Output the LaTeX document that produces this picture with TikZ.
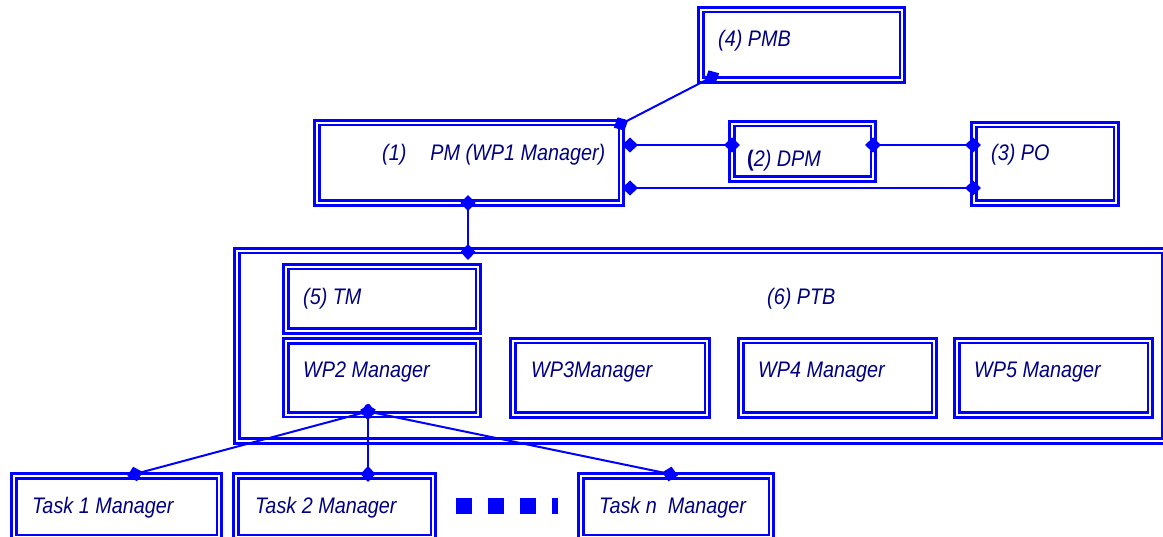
\documentclass[tikz,border=0pt]{standalone}
\usepackage{fontspec}
\setmainfont{Liberation Sans}[FakeStretch=0.88]
\usetikzlibrary{arrows.meta,calc}
\definecolor{boxblue}{RGB}{0,0,255}
\definecolor{labelnavy}{RGB}{0,0,128}
\tikzset{
  dbox/.style={rectangle, draw=boxblue, double=white, double distance=2pt,
    line width=2.75pt, inner sep=0pt, outer sep=3.75pt},
  lbl/.style={anchor=base west, inner sep=0pt, text=labelnavy,
    font=\fontsize{22.5}{27}\selectfont\itshape},
  link/.style={draw=boxblue, line width=2pt,
    arrows={Diamond[length=16pt,width=15pt]-Diamond[length=16pt,width=15pt]},
    shorten <=-8pt, shorten >=-8pt},
  dotmark/.style={fill=boxblue}
}
\begin{document}
\begin{tikzpicture}[x=1pt,y=-1pt]
\useasboundingbox (0,0) rectangle (1163,537);

% management boxes
\node[dbox, minimum width=201.5pt, minimum height=70.5pt] (pmb) at (801.5,45) {};
\node[dbox, minimum width=304.5pt, minimum height=80.5pt] (pm)  at (469,163) {};
\node[dbox, minimum width=141.5pt, minimum height=55.5pt] (dpm) at (802.5,151.5) {};
\node[dbox, minimum width=142.5pt, minimum height=78.5pt] (po)  at (1045,164) {};

% technical board and its members
\node[dbox, minimum width=927.5pt, minimum height=190.5pt] (ptb) at (700.5,346) {};
\node[dbox, minimum width=192.5pt, minimum height=64.5pt] (tm)  at (382,299) {};
\node[dbox, minimum width=192.5pt, minimum height=73.5pt] (wp2) at (382,378) {};
\node[dbox, minimum width=194.5pt, minimum height=74.5pt] (wp3) at (610,378) {};
\node[dbox, minimum width=193.5pt, minimum height=74.5pt] (wp4) at (837.5,378) {};
\node[dbox, minimum width=193.5pt, minimum height=74.5pt] (wp5) at (1053.5,378) {};

% task managers
\node[dbox, minimum width=205.5pt, minimum height=61.5pt] (task1) at (116.5,506.5) {};
\node[dbox, minimum width=197.5pt, minimum height=61.5pt] (task2) at (334.5,506.5) {};
\node[dbox, minimum width=190.5pt, minimum height=61.5pt] (taskn) at (676,506.5) {};

% connectors
\draw[link] ($(pmb.south west)+(15,-7)$) -- ($(pm.north east)+(-4,5)$);
\draw[link] ($(pm.north east)+(5,26)$) -- ($(dpm.north west)+(4,25)$);
\draw[link] ($(dpm.north east)+(-4,25)$) -- ($(po.north west)+(3,24)$);
\draw[link] ($(pm.north east)+(5,69)$) -- ($(po.north west)+(3,67)$);
\draw[link] ($(pm.south)+(-1,-4)$) -- ($(pm.south |- ptb.north)+(-1,5)$);
\draw[link] ($(wp2.south)+(-14,-7)$) -- ($(task1.north)+(18.5,2)$);
\draw[link] ($(wp2.south)+(-14,-7)$) -- ($(task2.north)+(33.5,2)$);
\draw[link] ($(wp2.south)+(-14,-7)$) -- ($(taskn.north)+(-6,2)$);

% continuation marks between the task managers
\fill[dotmark] (456,498) rectangle (472,514);
\fill[dotmark] (488,498) rectangle (504,514);
\fill[dotmark] (520,498) rectangle (536,514);
\fill[dotmark] (552,498) rectangle (558,514);

% labels
\node[lbl] (pmbtxt) at (718,47) {(4) PMB};
\node[lbl] (pmtxt) at (382,161) {(1)\hspace*{24pt}PM (WP1 Manager)};
\node[lbl] (dpmtxt) at (747,167) {{\upshape\bfseries(}2) DPM};
\node[lbl] (potxt) at (991,161) {(3) PO};
\node[lbl] (tmtxt) at (303,305) {(5) TM};
\node[lbl] (ptbtxt) at (767,305) {(6) PTB};
\node[lbl] (wp2txt) at (303,378) {WP2 Manager};
\node[lbl] (wp3txt) at (531,378) {WP3Manager};
\node[lbl] (wp4txt) at (758,378) {WP4 Manager};
\node[lbl] (wp5txt) at (974,378) {WP5 Manager};
\node[lbl] (task1txt) at (32,513) {Task 1 Manager};
\node[lbl] (task2txt) at (255,513) {Task 2 Manager};
\node[lbl] (taskntxt) at (599,513) {Task n\hspace*{11pt}Manager};
\end{tikzpicture}
\end{document}
